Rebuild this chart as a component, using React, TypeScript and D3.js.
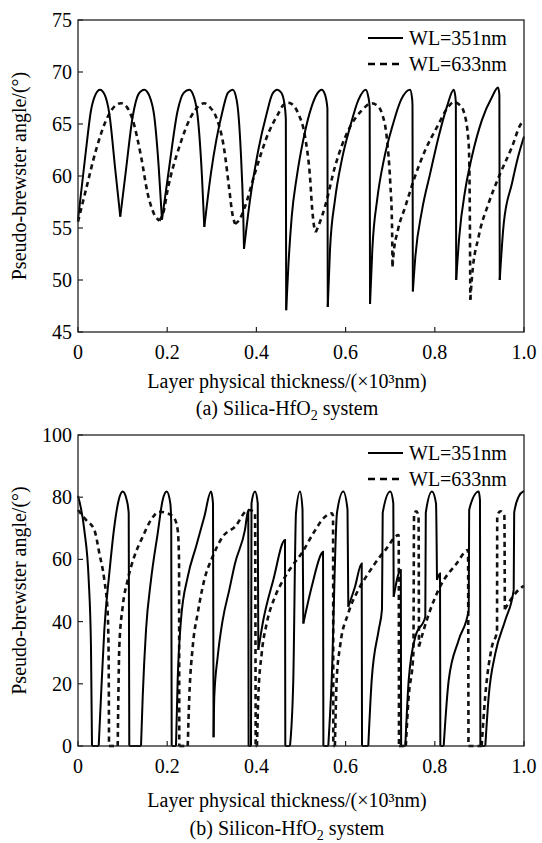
import React from 'react';
import * as d3 from 'd3';

type Pt = [number, number];

const xTicks = [0, 0.2, 0.4, 0.6, 0.8, 1.0];
const xTickLabels = ['0', '0.2', '0.4', '0.6', '0.8', '1.0'];
const silicaYTicks = [45, 50, 55, 60, 65, 70, 75];
const siliconYTicks = [0, 20, 40, 60, 80, 100];
const legendLabels = ['WL=351nm', 'WL=633nm'];

// (a) Silica-HfO2, WL=351nm
const silica351: Pt[] = [
  [0, 55.8], [0.0179, 62.5], [0.0291, 66.3], [0.04, 67.9], [0.0493, 68.3], [0.06, 67.8],
  [0.0702, 66.0], [0.0836, 60.6], [0.0948, 56.1], [0.1076, 60.6], [0.1226, 65.7], [0.136, 67.9],
  [0.1487, 68.3], [0.16, 67.7], [0.1711, 65.7], [0.1809, 60.9], [0.1883, 55.8], [0.2047, 60.9],
  [0.2235, 66.3], [0.237, 68.0], [0.2496, 68.3], [0.26, 67.6], [0.2684, 65.7], [0.278, 59.9],
  [0.2832, 55.1], [0.2982, 60.3], [0.3244, 66.3], [0.336, 68.0], [0.3469, 68.3], [0.3558, 67.3],
  [0.3648, 62.5], [0.3706, 56.1], [0.3722, 53.0], [0.3857, 57.7], [0.4043, 62.5], [0.4231, 66.0],
  [0.436, 67.9], [0.4469, 68.3], [0.456, 68.0], [0.4626, 67.0], [0.466, 65.5], [0.4668, 47.1],
  [0.4716, 51.3], [0.4792, 56.1], [0.4904, 59.9], [0.5052, 63.5], [0.524, 66.7], [0.536, 67.9],
  [0.5464, 68.3], [0.554, 67.8], [0.5592, 66.5], [0.56, 47.4], [0.565, 52.9], [0.5762, 57.7],
  [0.5913, 61.5], [0.6099, 64.7], [0.6285, 67.3], [0.6451, 68.3], [0.651, 67.6], [0.654, 66.6],
  [0.6548, 47.7], [0.66, 53.0], [0.671, 57.8], [0.686, 61.6], [0.705, 64.8], [0.724, 67.3],
  [0.7444, 68.3], [0.749, 67.5], [0.75, 66.8], [0.7508, 48.9], [0.7563, 52.2], [0.7713, 56.7],
  [0.7899, 60.3], [0.8087, 63.8], [0.8274, 66.7], [0.8424, 68.3], [0.8462, 67.6], [0.8472, 66.9],
  [0.848, 50.0], [0.8549, 54.2], [0.8684, 58.7], [0.8834, 61.9], [0.9058, 65.4], [0.9283, 67.6],
  [0.9417, 68.5], [0.9448, 67.8], [0.9456, 50.0], [0.9545, 55.4], [0.9731, 59.3], [0.9865, 61.8],
  [1.0, 63.8],
];

// (a) Silica-HfO2, WL=633nm
const silica633: Pt[] = [
  [0, 55.6], [0.0179, 58.7], [0.0404, 62.5], [0.0666, 65.7], [0.082, 66.7], [0.0964, 67.0],
  [0.11, 66.6], [0.1226, 65.4], [0.1413, 61.9], [0.1563, 58.3], [0.17, 56.4], [0.1823, 55.7],
  [0.192, 56.6], [0.2011, 58.7], [0.2271, 62.8], [0.2534, 65.7], [0.27, 66.7], [0.2832, 67.0],
  [0.296, 66.6], [0.3094, 65.7], [0.328, 62.5], [0.3392, 58.7], [0.346, 56.4], [0.352, 55.4],
  [0.362, 55.8], [0.3744, 57.05], [0.3969, 60.3], [0.4267, 64.1], [0.4491, 66.0], [0.46, 66.8],
  [0.4715, 67.05], [0.483, 66.8], [0.4939, 66.0], [0.509, 63.8], [0.5202, 59.9], [0.5253, 56.7],
  [0.53, 55.0], [0.533, 54.6], [0.54, 55.3], [0.5538, 57.05], [0.5762, 60.9], [0.6061, 64.4],
  [0.6361, 66.3], [0.6585, 67.0], [0.67, 66.8], [0.6816, 66.0], [0.6928, 63.5], [0.7002, 59.3],
  [0.704, 55.4], [0.7052, 51.3], [0.7068, 52.2], [0.7173, 54.8], [0.7339, 57.05], [0.7527, 59.6],
  [0.7787, 62.5], [0.8049, 64.7], [0.8312, 66.7], [0.8424, 67.1], [0.854, 66.9], [0.8648, 66.2],
  [0.876, 63.1], [0.8783, 57.7], [0.8796, 48.1], [0.8834, 50.3], [0.8984, 54.2], [0.9209, 57.4],
  [0.9433, 59.9], [0.9731, 62.8], [0.9917, 64.9], [1.0, 65.3],
];

// (b) Silicon-HfO2, WL=351nm
const silicon351: Pt[] = [
  [0, 80.5], [0.0141, 69.5], [0.024, 53.4], [0.0291, 31.9], [0.0314, 0], [0.0464, 0],
  [0.0516, 15.9], [0.059, 37.3], [0.0702, 55.5], [0.0814, 70.5], [0.0913, 79.1], [0.1002, 81.8],
  [0.1092, 79.1], [0.1137, 74.8], [0.115, 0], [0.1413, 0], [0.1451, 15.9], [0.1525, 37.3],
  [0.1637, 53.4], [0.1787, 68.4], [0.1899, 79.1], [0.1989, 81.8], [0.207, 78.0], [0.209, 72.0],
  [0.2101, 0], [0.2197, 0], [0.2235, 21.2], [0.2309, 40.5], [0.246, 54.4], [0.2646, 64.1],
  [0.2832, 73.7], [0.2982, 81.8], [0.3027, 78.0], [0.304, 2.8], [0.3056, 15.9], [0.3132, 28.7],
  [0.3244, 40.5], [0.3392, 50.2], [0.352, 58.7], [0.3744, 69.5], [0.3818, 75.9], [0.3825, 0],
  [0.3879, 0], [0.389, 78.0], [0.3969, 81.8], [0.403, 78.0], [0.4043, 30.9], [0.4155, 40.5],
  [0.4379, 53.4], [0.4641, 66.2], [0.4648, 0], [0.4753, 0], [0.4827, 21.2], [0.4888, 75.0],
  [0.4978, 81.8], [0.5034, 76.0], [0.5052, 39.4], [0.524, 51.2], [0.5464, 62.0], [0.5494, 62.5],
  [0.5502, 0], [0.5612, 0], [0.5688, 21.2], [0.5807, 75.0], [0.5948, 81.8], [0.6043, 76.0],
  [0.6061, 44.8], [0.6211, 51.2], [0.6361, 58.7], [0.6368, 0], [0.6509, 0], [0.6585, 21.2],
  [0.6742, 37.3], [0.6816, 44.0], [0.6832, 75.0], [0.7002, 81.8], [0.707, 78.0], [0.7078, 48.0],
  [0.7238, 56.6], [0.7245, 0], [0.7339, 0], [0.7415, 21.2], [0.7563, 35.1], [0.7787, 41.6],
  [0.7798, 75.0], [0.7937, 81.8], [0.8027, 78.0], [0.8049, 53.4], [0.8117, 55.5], [0.8124, 0],
  [0.8199, 0], [0.8312, 21.2], [0.8536, 34.1], [0.876, 43.7], [0.8771, 76.0], [0.8984, 81.8],
  [0.9013, 79.0], [0.9022, 0], [0.9132, 0], [0.9208, 15.9], [0.9357, 29.8], [0.9581, 40.5],
  [0.9769, 50.2], [0.978, 75.0], [0.9881, 80.2], [1.0, 82.0],
];

// (b) Silicon-HfO2, WL=633nm
const silicon633: Pt[] = [
  [0, 75.9], [0.0179, 72.7], [0.0366, 69.5], [0.0478, 62.0], [0.059, 53.4], [0.0666, 42.7],
  [0.0688, 26.6], [0.0695, 0], [0.089, 0], [0.0905, 15.9], [0.0926, 31.9], [0.1002, 44.8],
  [0.1114, 53.4], [0.1262, 60.9], [0.1451, 67.3], [0.1637, 72.7], [0.1823, 75.3], [0.2011, 74.8],
  [0.2159, 73.2], [0.2235, 69.5], [0.2265, 60.0], [0.2271, 0], [0.246, 0], [0.2496, 15.9],
  [0.2572, 31.9], [0.2684, 42.7], [0.2832, 53.4], [0.302, 60.9], [0.3244, 67.3], [0.352, 70.5],
  [0.3818, 75.9], [0.3969, 75.0], [0.3984, 0], [0.4013, 0], [0.4043, 15.9], [0.4119, 29.8],
  [0.4231, 39.4], [0.4417, 48.0], [0.4603, 53.4], [0.4791, 57.7], [0.5016, 62.0], [0.5276, 68.4],
  [0.5538, 73.7], [0.5688, 74.8], [0.5718, 74.0], [0.5725, 0], [0.576, 0], [0.58, 21.2],
  [0.5874, 31.9], [0.606, 42.7], [0.6285, 50.2], [0.6509, 55.5], [0.6771, 60.9], [0.689, 63.0],
  [0.719, 67.8], [0.7197, 0], [0.735, 0], [0.741, 15.0], [0.752, 30.0], [0.7535, 74.0],
  [0.758, 75.5], [0.7635, 74.0], [0.7645, 32.0], [0.782, 40.5], [0.8117, 51.2], [0.849, 58.7],
  [0.8745, 63.0], [0.8755, 0], [0.905, 0], [0.913, 15.9], [0.928, 31.9], [0.9395, 37.0],
  [0.94, 74.0], [0.947, 75.5], [0.956, 74.0], [0.957, 44.0], [0.97, 47.0], [0.99, 50.5],
  [1.0, 51.5],
];

// break a curve at its local minima so cusps stay sharp under monotone smoothing
const splitAtMinima = (pts: Pt[]): Pt[][] => {
  const segs: Pt[][] = [];
  let cur: Pt[] = [pts[0]];
  for (let i = 1; i < pts.length; i++) {
    cur.push(pts[i]);
    if (i < pts.length - 1 && pts[i][1] <= pts[i - 1][1] && pts[i][1] <= pts[i + 1][1]) {
      segs.push(cur);
      cur = [pts[i]];
    }
  }
  if (cur.length > 1) segs.push(cur);
  return segs;
};

const FONT = '"Liberation Serif", "Times New Roman", serif';
const left = 78;
const right = 524;

const Panel = ({ top, bottom, domain, yTicks, solid, dashed, caption, legendY, titleY, captionY }: any) => {
  const x = d3.scaleLinear().domain([0, 1]).range([left, right]);
  const y = d3.scaleLinear().domain(domain).range([bottom, top]);
  const line = d3.line<Pt>().x(d => x(d[0])).y(d => y(d[1])).curve(d3.curveMonotoneX);
  const midY = (top + bottom) / 2;

  return (
    <g fontFamily={FONT} fill="#000">
      {splitAtMinima(dashed).map((s, i) => (
        <path key={'d' + i} d={line(s) || ''} fill="none" stroke="#111" strokeWidth={2.6} strokeDasharray="5,4" />
      ))}
      {splitAtMinima(solid).map((s, i) => (
        <path key={'s' + i} d={line(s) || ''} fill="none" stroke="#000" strokeWidth={2} />
      ))}
      <rect x={left} y={top} width={right - left} height={bottom - top} fill="none" stroke="#222" strokeWidth={1.3} />
      {xTicks.map((t, i) => (
        <g key={'xt' + i}>
          <line x1={x(t)} x2={x(t)} y1={bottom} y2={bottom - 5} stroke="#222" strokeWidth={1.2} />
          <text x={x(t)} y={bottom + 27} textAnchor="middle" fontSize={20}>{xTickLabels[i]}</text>
        </g>
      ))}
      {yTicks.map((t: number) => (
        <g key={'yt' + t}>
          <line x1={left} x2={left + 5} y1={y(t)} y2={y(t)} stroke="#222" strokeWidth={1.2} />
          <text x={left - 6} y={y(t) + 7} textAnchor="end" fontSize={20}>{t}</text>
        </g>
      ))}
      <text transform={`translate(26,${midY}) rotate(-90)`} textAnchor="middle" fontSize={20}>
        Pseudo-brewster angle/(°)
      </text>
      <text x={287} y={titleY} textAnchor="middle" fontSize={20}>Layer physical thickness/(×10³nm)</text>
      <text x={287} y={captionY} textAnchor="middle" fontSize={20}>
        {caption[0]}<tspan fontSize={14} dy={5}>2</tspan><tspan dy={-5}>{caption[1]}</tspan>
      </text>
      {legendLabels.map((lab, i) => (
        <g key={'lg' + i}>
          <line x1={368} x2={403} y1={legendY + i * 26} y2={legendY + i * 26} stroke="#000"
            strokeWidth={i === 0 ? 2 : 2.6} strokeDasharray={i === 0 ? undefined : '7,5'} />
          <text x={409} y={legendY + i * 26 + 7} fontSize={20}>{lab}</text>
        </g>
      ))}
    </g>
  );
};

const App = () => {
  return (
    <svg width={542} height={843} style={{ position: 'absolute', left: 0, top: 0, background: '#fff' }}>
      <rect width={542} height={843} fill="#fff" />
      <Panel top={20} bottom={332} domain={[45, 75]} yTicks={silicaYTicks} solid={silica351} dashed={silica633}
        caption={['(a) Silica-HfO', ' system']} legendY={38} titleY={388} captionY={415} />
      <Panel top={435} bottom={746} domain={[0, 100]} yTicks={siliconYTicks} solid={silicon351} dashed={silicon633}
        caption={['(b) Silicon-HfO', ' system']} legendY={453} titleY={807} captionY={835} />
    </svg>
  );
};

export default App;
